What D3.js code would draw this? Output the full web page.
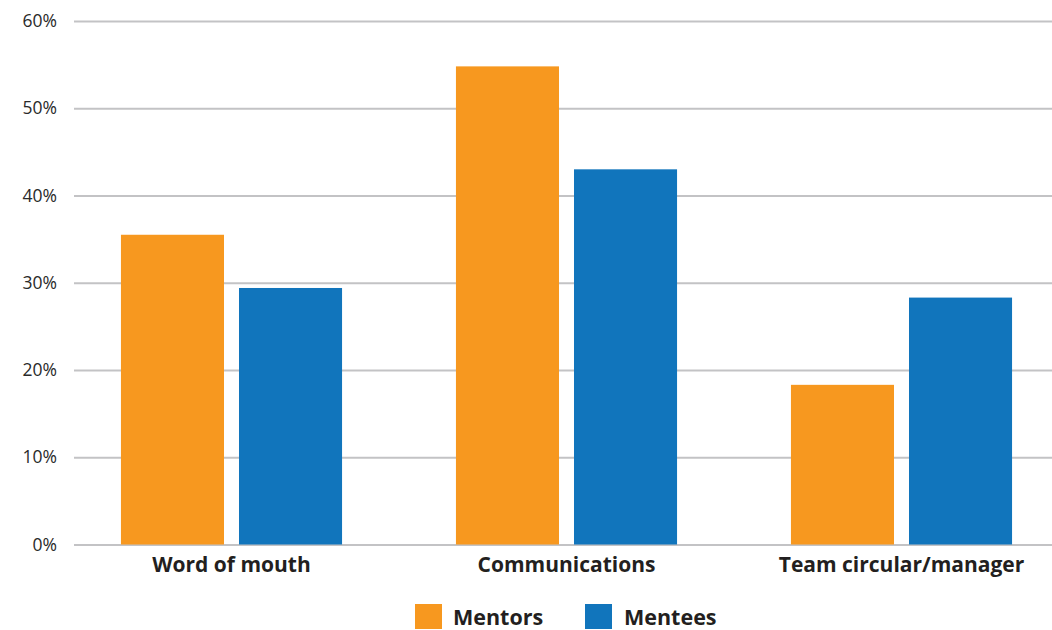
<!DOCTYPE html>
<html>
<head>
<meta charset="utf-8">
<script src="https://cdn.jsdelivr.net/npm/d3@7"></script>
<style>
  html, body { margin: 0; padding: 0; background: #fff; }
  svg { display: block; font-family: "Open Sans", "Noto Sans", sans-serif; }
</style>
</head>
<body>
<svg id="chart" width="1052" height="630"></svg>
<script>
// How people heard about the programme, by role
const categories = ["Word of mouth", "Communications", "Team circular/manager"];
const seriesNames = ["Mentors", "Mentees"];
const mentors = [35.5, 54.8, 18.3];
const mentees = [29.4, 43.0, 28.3];
const yTicks = [0, 10, 20, 30, 40, 50, 60];
const colors = ["#F7981F", "#1175BC"];

const FONT = "'Open Sans', 'Noto Sans', sans-serif";
const svg = d3.select("#chart");

const y = d3.scaleLinear().domain([0, 60]).range([544.5, 21]);

const x0 = d3.scaleBand()
  .domain(categories)
  .range([64, 1069])
  .paddingInner(0.34)
  .paddingOuter(0.17);

const x1 = d3.scaleBand()
  .domain(seriesNames)
  .range([0, x0.bandwidth()])
  .paddingInner(0.127);

const color = d3.scaleOrdinal().domain(seriesNames).range(colors);

// gridlines and tick labels
const yAxis = d3.axisLeft(y)
  .tickValues(yTicks)
  .tickFormat(d => d + "%")
  .tickSize(-(1052 - 74))
  .tickPadding(17);

const gy = svg.append("g")
  .attr("transform", "translate(74,0)")
  .call(yAxis)
  .attr("font-family", FONT);
gy.select(".domain").remove();
gy.selectAll(".tick line").attr("stroke", "#C3C3C5").attr("stroke-width", 2);
gy.selectAll(".tick text")
  .attr("fill", "#2a2a2a")
  .style("font-size", "17.5px");

// bars
const rows = categories.map((c, i) => ({
  category: c,
  values: [
    { key: "Mentors", value: mentors[i] },
    { key: "Mentees", value: mentees[i] }
  ]
}));

const groups = svg.append("g")
  .selectAll("g")
  .data(rows)
  .join("g")
  .attr("transform", d => `translate(${x0(d.category)},0)`);

groups.selectAll("rect")
  .data(d => d.values)
  .join("rect")
  .attr("x", d => x1(d.key))
  .attr("width", x1.bandwidth())
  .attr("y", d => y(d.value))
  .attr("height", d => y(0) - y(d.value))
  .attr("fill", d => color(d.key));

// category labels
const xAxis = d3.axisBottom(x0).tickSize(0).tickPadding(13);
const gx = svg.append("g")
  .attr("transform", `translate(0,${y(0)})`)
  .call(xAxis)
  .attr("font-family", FONT);
gx.select(".domain").remove();
gx.selectAll(".tick text")
  .attr("fill", "#231f20")
  .style("font-size", "21px")
  .style("font-weight", "bold");

// legend
const legendItems = [
  { key: "Mentors", x: 415, tx: 453 },
  { key: "Mentees", x: 585, tx: 624 }
];
const legend = svg.append("g").attr("font-family", FONT);
legend.selectAll("rect")
  .data(legendItems)
  .join("rect")
  .attr("x", d => d.x)
  .attr("y", 604)
  .attr("width", 27)
  .attr("height", 25)
  .attr("fill", d => color(d.key));
legend.selectAll("text")
  .data(legendItems)
  .join("text")
  .attr("x", d => d.tx)
  .attr("y", 625)
  .attr("fill", "#231f20")
  .style("font-size", "21.5px")
  .style("font-weight", "bold")
  .text(d => d.key);
</script>
</body>
</html>
